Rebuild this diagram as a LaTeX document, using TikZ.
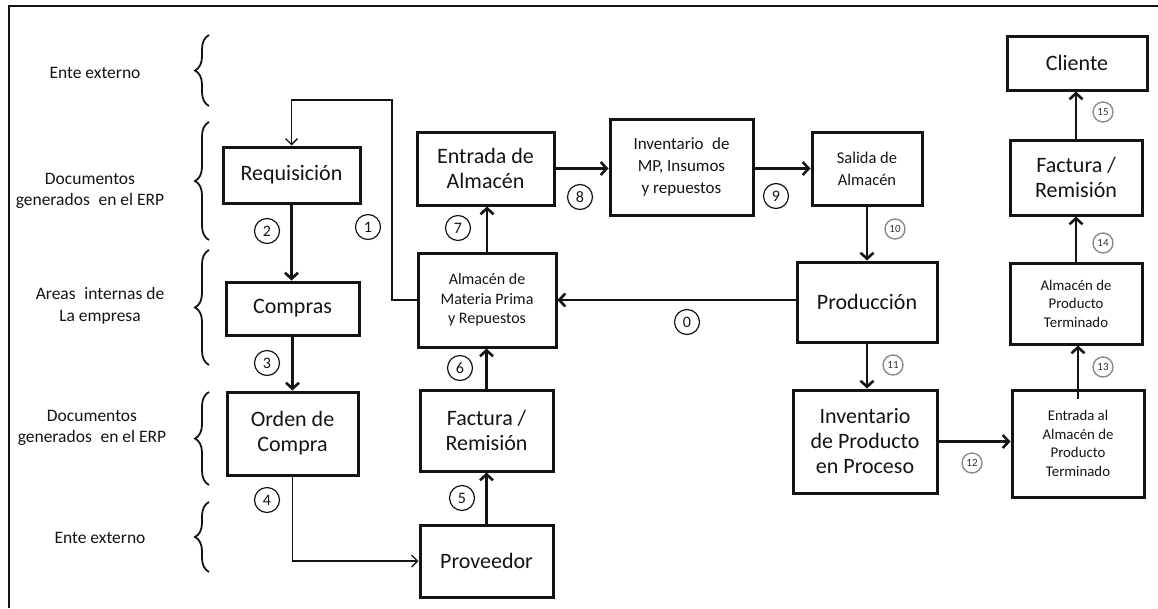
\documentclass[tikz,border=0pt]{standalone}
\usepackage{fontspec}
\setmainfont{Carlito}
\usetikzlibrary{arrows.meta,decorations.pathreplacing}
\definecolor{ink}{HTML}{141414}
\definecolor{softgray}{HTML}{8A8A8A}
\begin{document}
\begin{tikzpicture}[x=1pt,y=-1pt,
  box/.style={draw=ink, line width=3pt, align=center, inner sep=0pt, text=ink},
  bigtxt/.style={font=\fontsize{22}{25}\selectfont},
  midtxt/.style={font=\fontsize{17}{22}\selectfont},
  salidatxt/.style={font=\fontsize{16.5}{22}\selectfont},
  smalltxt/.style={font=\fontsize{16}{19.5}\selectfont},
  tinytxt/.style={font=\fontsize{14.8}{18.5}\selectfont},
  flow/.style={draw=ink, line width=2.6pt, -{Straight Barb[length=6pt,width=13pt]}},
  thinflow/.style={draw=ink, line width=1.3pt, -{Straight Barb[length=6pt,width=12pt]}},
  numc/.style={circle, draw=ink, line width=1.2pt, minimum size=25pt, inner sep=0pt,
    font=\fontsize{16}{16}\selectfont, text=ink},
  grayc/.style={circle, draw=softgray, line width=1.4pt, minimum size=20pt, inner sep=0pt,
    font=\fontsize{11}{11}\selectfont, text=black!80},
  sidelab/.style={align=center, font=\fontsize{17.5}{21.5}\selectfont, text=ink},
  curly/.style={decorate, decoration={brace, amplitude=14pt}, line width=1.8pt, draw=ink},
]
\useasboundingbox (0,0) rectangle (1158,608);

% outer frame (top and left edges)
\draw[ink, line width=1.8pt] (9,608) -- (9,6) -- (1158,6);

% side labels and their braces
\node[sidelab] (lab1) at (95,73) {Ente externo};
\node[sidelab] (lab2) at (90,191) {Documentos\\generados\enspace en el ERP};
\node[sidelab] (lab3) at (100,306) {Areas\enspace internas de\\La empresa};
\node[sidelab] (lab4) at (92,428) {Documentos\\generados\enspace en el ERP};
\node[sidelab] (lab5) at (100,538) {Ente externo};

\draw[curly] (209,106) -- (209,35);
\draw[curly] (209,240) -- (209,122);
\draw[curly] (209,365) -- (209,250);
\draw[curly] (209,485) -- (209,392);
\draw[curly] (209,572) -- (209,502);

% purchasing column
\node[box, bigtxt, minimum width=137pt, minimum height=56pt] (req) at (291.5,175) {Requisición};
\node[box, bigtxt, minimum width=133pt, minimum height=53pt] (comp) at (292.5,308.5) {Compras};
\node[box, bigtxt, minimum width=131pt, minimum height=83pt] (orden) at (292.5,433.5) {Orden de\\Compra};

% raw material column
\node[box, bigtxt, minimum width=133pt, minimum height=72pt] (prov) at (486.5,561) {Proveedor};
\node[box, bigtxt, minimum width=133pt, minimum height=81pt] (fac1) at (486.5,430.5) {Factura /\\Remisión};
\node[box, smalltxt, minimum width=138pt, minimum height=94pt] (amp) at (487,300) {Almacén de\\Materia Prima\\y Repuestos};
\node[box, bigtxt, minimum width=137pt, minimum height=73pt] (ent) at (485.5,168.5) {Entrada de\\Almacén};
\node[box, midtxt, minimum width=143pt, minimum height=96pt] (invmp) at (681.5,167) {Inventario\enspace de\\MP, Insumos\\y repuestos};
\node[box, salidatxt, minimum width=110pt, minimum height=73pt] (sal) at (867,168.5) {Salida de\\Almacén};

% production column
\node[box, bigtxt, minimum width=140pt, minimum height=80pt] (prod) at (867,302) {Producción};
\node[box, bigtxt, minimum width=144pt, minimum height=103pt] (inpp) at (865,441.5) {Inventario\\de Producto\\en Proceso};

% finished goods column
\node[box, tinytxt, minimum width=132pt, minimum height=107pt] (ept) at (1078,443.5) {Entrada al\\Almacén de\\Producto\\Terminado};
\node[box, tinytxt, minimum width=132pt, minimum height=81pt] (apt) at (1076,303.5) {Almacén de\\Producto\\Terminado};
\node[box, bigtxt, minimum width=132pt, minimum height=75pt] (fac2) at (1076,177.5) {Factura /\\Remisión};
\node[box, bigtxt, minimum width=140pt, minimum height=54pt] (cli) at (1077,63) {Cliente};

% connectors
\coordinate (loop) at (392,100);
\draw[thinflow] (amp.west) -- (amp.west -| loop) -- (loop) -- (loop -| req.north) -- (req.north);
\draw[flow] (req.south) -- (req.south |- comp.north);
\draw[flow] (comp.south) -- (comp.south |- orden.north);
\draw[thinflow] (orden.south) -- (orden.south |- prov.west) -- (prov.west);
\draw[flow] (prov.north) -- (prov.north |- fac1.south);
\draw[flow] (fac1.north) -- (fac1.north |- amp.south);
\draw[flow] (amp.north) -- (amp.north |- ent.south);
\draw[flow] (ent.east) -- (ent.east -| invmp.west);
\draw[flow] (sal.west -| invmp.east) -- (sal.west);
\draw[flow] (sal.south) -- (sal.south |- prod.north);
\draw[flow] (prod.west |- amp.east) -- (amp.east);
\draw[flow] (prod.south) -- (prod.south |- inpp.north);
\draw[flow] (inpp.east) -- (inpp.east -| ept.west);
\draw[flow] (apt.south -| ept.north) ++(0,53.5) -- (apt.south -| ept.north);
\draw[flow] (apt.north) -- (apt.north |- fac2.south);
\draw[flow] (fac2.north) -- (fac2.north |- cli.south);

% step numbers
\node[numc] (c0) at (687,322) {0};
\node[numc] (c1) at (368,227) {1};
\node[numc] (c2) at (267,231) {2};
\node[numc] (c3) at (267,363) {3};
\node[numc] (c4) at (267,500) {4};
\node[numc] (c5) at (462,498) {5};
\node[numc] (c6) at (460,368) {6};
\node[numc] (c7) at (458,228) {7};
\node[numc] (c8) at (580,197) {8};
\node[numc] (c9) at (776,196) {9};
\node[grayc] (c10) at (895,229) {10};
\node[grayc] (c11) at (893,365) {11};
\node[grayc] (c12) at (972,463) {12};
\node[grayc] (c13) at (1103,367) {13};
\node[grayc] (c14) at (1103,243) {14};
\node[grayc] (c15) at (1103,112) {15};
\end{tikzpicture}
\end{document}
